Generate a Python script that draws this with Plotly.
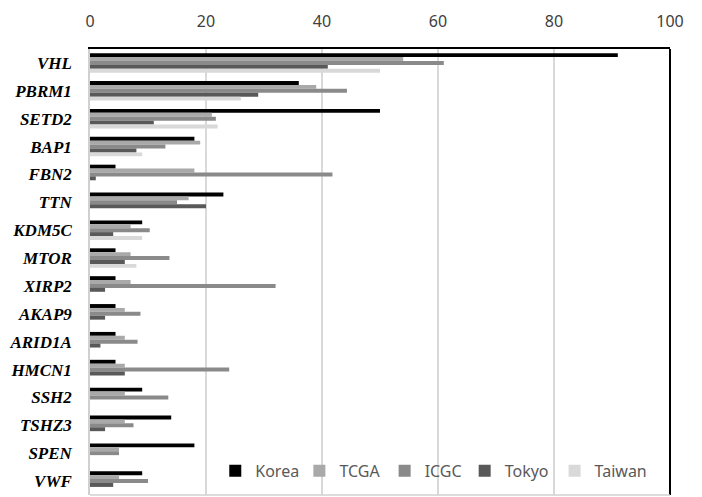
import plotly.graph_objects as go

genes = ["VHL", "PBRM1", "SETD2", "BAP1", "FBN2", "TTN", "KDM5C", "MTOR",
         "XIRP2", "AKAP9", "ARID1A", "HMCN1", "SSH2", "TSHZ3", "SPEN", "VWF"]

korea  = [91, 36, 50, 18, 4.4, 23, 9, 4.4, 4.4, 4.4, 4.4, 4.4, 9, 14, 18, 9]
tcga   = [54, 39, 21, 19, 18, 17, 7, 7, 7, 6, 6, 6, 6, 6, 5, 5]
icgc   = [61, 44.3, 21.7, 13, 41.8, 15, 10.3, 13.7, 32, 8.7, 8.2, 24, 13.5, 7.5, 5, 10]
tokyo  = [41, 29, 11, 8, 1, 20, 4, 6, 2.6, 2.6, 1.8, 6, 0, 2.6, 0, 4]
taiwan = [50, 26, 22, 9, 0, 0, 9, 8, 0, 0, 0, 0, 0, 0, 0, 0]

series_names = ["Korea", "TCGA", "ICGC", "Tokyo", "Taiwan"]
series_values = [korea, tcga, icgc, tokyo, taiwan]
series_colors = ["#000000", "#a9a9a9", "#8a8a8a", "#595959", "#d9d9d9"]

x_ticks = [0, 20, 40, 60, 80, 100]

legend_ids = ["legend", "legend2", "legend3", "legend4", "legend5"]
legend_x = [0.216, 0.361, 0.508, 0.646, 0.801]

fig = go.Figure()
for name, vals, col, lid in zip(series_names, series_values, series_colors, legend_ids):
    fig.add_trace(go.Bar(
        y=genes, x=vals, name=name, orientation="h",
        marker=dict(color=col, line=dict(width=0)),
        legend=lid,
    ))

legend_common = dict(
    orientation="h", y=0.054, xanchor="left", yanchor="middle",
    bgcolor="rgba(0,0,0,0)", font=dict(family="Noto Sans", size=16, color="#595959"),
)

layout_legends = {}
for lid, lx in zip(legend_ids, legend_x):
    layout_legends[lid] = dict(x=lx, **legend_common)

fig.update_layout(
    width=702, height=497,
    margin=dict(l=82, r=40, t=41, b=10),
    paper_bgcolor="white", plot_bgcolor="white",
    barmode="group", bargap=0.3, bargroupgap=0,
    showlegend=True,
    xaxis=dict(
        side="top", range=[0, 100], tickvals=x_ticks, automargin=False,
        showgrid=True, gridcolor="#d9d9d9", gridwidth=1.5,
        zeroline=False, showline=True, linecolor="#000000", linewidth=2,
        ticks="", ticklabelstandoff=14,
        tickfont=dict(family="Noto Sans", size=16, color="#404040"),
    ),
    yaxis=dict(
        autorange="reversed", showgrid=False, zeroline=False, automargin=False,
        showline=True, linecolor="#d0d0d0", linewidth=1.5,
        ticks="", ticklabelstandoff=13,
        tickfont=dict(family="Liberation Serif", size=17, color="#000000",
                      weight="bold", style="italic"),
    ),
    shapes=[
        dict(type="line", xref="paper", yref="paper", x0=1, x1=1, y0=0, y1=1,
             line=dict(color="#000000", width=2)),
        dict(type="line", xref="paper", yref="paper", x0=0, x1=1, y0=0, y1=0,
             line=dict(color="#d0d0d0", width=1.5)),
    ],
    **layout_legends,
)

fig.write_html("out.html")
